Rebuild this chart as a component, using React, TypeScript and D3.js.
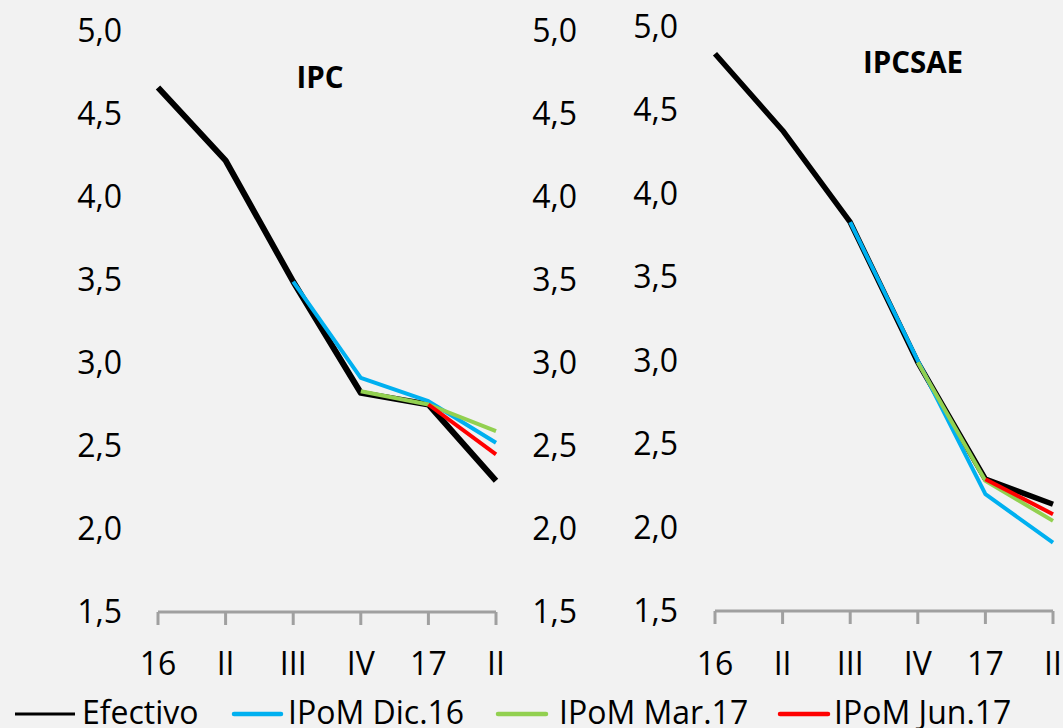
import React from "react";
import * as d3 from "d3";

const periods = ["16", "II", "III", "IV", "17", "II"];
const yTicks = [1.5, 2.0, 2.5, 3.0, 3.5, 4.0, 4.5, 5.0];

const ipcEfectivo = [4.66, 4.22, 3.49, 2.82, 2.75, 2.29];
const ipcDic16 = [null, null, 3.49, 2.91, 2.77, 2.52];
const ipcMar17 = [null, null, null, 2.83, 2.75, 2.59];
const ipcJun17 = [null, null, null, null, 2.75, 2.45];

const saeEfectivo = [4.84, 4.38, 3.83, 2.99, 2.29, 2.14];
const saeDic16 = [null, null, 3.83, 3.0, 2.2, 1.91];
const saeMar17 = [null, null, null, 2.99, 2.28, 2.04];
const saeJun17 = [null, null, null, null, 2.29, 2.08];

const seriesNames = ["Efectivo", "IPoM Dic.16", "IPoM Mar.17", "IPoM Jun.17"];
const seriesColors = ["#000000", "#00b0f0", "#92d050", "#ff0000"];

const FONT = "'Open Sans', sans-serif";

type Panel = {
  title: string;
  titleX: number;
  titleY: number;
  x0: number;
  x1: number;
  yTop: number;
  yBottom: number;
  labelX: number;
  blackWidth: number;
  series: (number | null)[][];
};

const panels: Panel[] = [
  { title: "IPC", titleX: 320, titleY: 88, x0: 158, x1: 496, yTop: 31, yBottom: 612, labelX: 122, blackWidth: 6, series: [ipcEfectivo, ipcDic16, ipcMar17, ipcJun17] },
  { title: "IPCSAE", titleX: 913, titleY: 73, x0: 715, x1: 1053, yTop: 27, yBottom: 611, labelX: 678, blackWidth: 5.5, series: [saeEfectivo, saeDic16, saeMar17, saeJun17] },
];

function PanelView({ p }: { p: Panel }) {
  const x = d3.scalePoint<number>().domain(d3.range(periods.length)).range([p.x0, p.x1]);
  const y = d3.scaleLinear().domain([1.5, 5.0]).range([p.yBottom, p.yTop]);
  const line = d3
    .line<number | null>()
    .defined((d) => d !== null)
    .x((_, i) => x(i) as number)
    .y((d) => y(d as number));
  const fmt = (v: number) => v.toFixed(1).replace(".", ",");
  return (
    <g>
      {yTicks.map((t) => (
        <text key={t} x={p.labelX} y={y(t) + 11} textAnchor="end" fontSize={32} fontFamily={FONT} fill="#000">
          {fmt(t)}
        </text>
      ))}
      <line x1={p.x0} x2={p.x1} y1={y(1.5)} y2={y(1.5)} stroke="#a0a0a0" strokeWidth={3} />
      {periods.map((lab, i) => (
        <g key={i}>
          <line x1={x(i)} x2={x(i)} y1={y(1.5)} y2={y(1.5) + 13} stroke="#a0a0a0" strokeWidth={3} />
          <text x={x(i)} y={675} textAnchor="middle" fontSize={32} fontFamily={FONT} fill="#000">
            {lab}
          </text>
        </g>
      ))}
      {p.series.map((s, k) => (
        <path
          key={k}
          d={line(s) || ""}
          fill="none"
          stroke={seriesColors[k]}
          strokeWidth={k === 0 ? p.blackWidth : 4}
          strokeLinejoin="round"
        />
      ))}
      <text x={p.titleX} y={p.titleY} textAnchor="middle" fontSize={29.5} fontWeight="bold" fontFamily={FONT} fill="#000">
        {p.title}
      </text>
    </g>
  );
}

const legendPos = [
  { lx0: 15, lx1: 75, tx: 82 },
  { lx0: 234, lx1: 281, tx: 288 },
  { lx0: 498, lx1: 546, tx: 559 },
  { lx0: 780, lx1: 828, tx: 834 },
];

export default function App() {
  const midScale = d3.scaleLinear().domain([1.5, 5.0]).range([612, 31]);
  return (
    <div style={{ position: "fixed", left: 0, top: 0 }}>
      <svg width={1063} height={728} style={{ display: "block", background: "#f2f2f2" }}>
        <rect width={1063} height={728} fill="#f2f2f2" />
        {panels.map((p, i) => (
          <PanelView key={i} p={p} />
        ))}
        {yTicks.map((t) => (
          <text key={t} x={577} y={midScale(t) + 11} textAnchor="end" fontSize={32} fontFamily={FONT} fill="#000">
            {t.toFixed(1).replace(".", ",")}
          </text>
        ))}
        {seriesNames.map((n, k) => (
          <g key={n}>
            <line
              x1={legendPos[k].lx0}
              x2={legendPos[k].lx1}
              y1={714}
              y2={714}
              stroke={seriesColors[k]}
              strokeWidth={k === 0 ? 3 : 4.5}
              strokeLinecap={k === 0 ? "butt" : "round"}
            />
            <text x={legendPos[k].tx} y={724} fontSize={32} fontFamily={FONT} fill="#000">
              {n}
            </text>
          </g>
        ))}
      </svg>
    </div>
  );
}
